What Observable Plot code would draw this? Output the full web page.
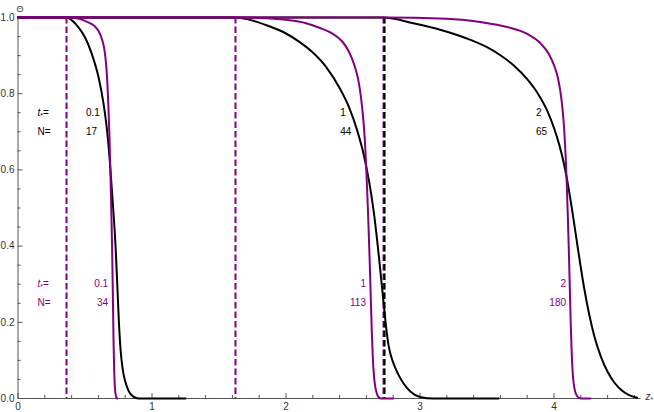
<!DOCTYPE html>
<html><head><meta charset="utf-8">
<script src="https://cdn.jsdelivr.net/npm/d3@7"></script>
<script src="https://cdn.jsdelivr.net/npm/@observablehq/plot@0.6"></script>
<style>html,body{margin:0;padding:0;background:#fff;} svg{display:block}</style>
</head><body><div id="chart"></div>
<script>
// ---- data ----
const times = [0.1, 1, 2];          // t* values
const nBlack = [17, 44, 65];        // N for black curves
const nPurple = [34, 113, 180];     // N for purple curves
const frontStart = [0.362, 1.623, 2.728]; // dashed lines (z*)

// black curves (z*, Θ)
const b01Z = [0, 0.362, 0.40, 0.45, 0.50, 0.55, 0.60, 0.64, 0.67, 0.69, 0.71, 0.728, 0.742, 0.753, 0.765, 0.78, 0.80, 0.825, 0.86, 0.90, 1.25];
const b01T = [1, 1, 0.993, 0.975, 0.948, 0.905, 0.845, 0.77, 0.685, 0.60, 0.50, 0.40, 0.29, 0.20, 0.13, 0.08, 0.045, 0.02, 0.005, 0, 0];
const b1Z = [0, 1.623, 1.75, 1.86, 2.0, 2.1, 2.2, 2.3, 2.4, 2.47, 2.53, 2.58, 2.62, 2.655, 2.685, 2.71, 2.73, 2.748, 2.765, 2.785, 2.81, 2.84, 2.88, 2.93, 3.0, 3.1, 3.586];
const b1T = [1, 1, 0.992, 0.979, 0.958, 0.936, 0.908, 0.870, 0.815, 0.765, 0.705, 0.64, 0.57, 0.49, 0.40, 0.315, 0.245, 0.185, 0.14, 0.11, 0.085, 0.062, 0.038, 0.018, 0.004, 0, 0];
const b2Z = [0, 2.728, 2.95, 3.15, 3.35, 3.5, 3.6, 3.7, 3.8, 3.88, 3.95, 4.0, 4.04, 4.075, 4.105, 4.135, 4.165, 4.195, 4.225, 4.26, 4.30, 4.35, 4.40, 4.45, 4.50, 4.56, 4.62];
const b2T = [1, 1, 0.985, 0.968, 0.945, 0.922, 0.901, 0.874, 0.838, 0.800, 0.755, 0.71, 0.665, 0.615, 0.56, 0.495, 0.425, 0.355, 0.29, 0.225, 0.165, 0.11, 0.07, 0.042, 0.023, 0.009, 0.002];

// purple curves (z*, Θ)
const p01Z = [0, 0.362, 0.45, 0.52, 0.57, 0.60, 0.625, 0.645, 0.658, 0.668, 0.676, 0.683, 0.689, 0.696, 0.702, 0.708, 0.713, 0.718, 0.724, 0.731, 0.74];
const p01T = [1, 1, 0.997, 0.988, 0.978, 0.965, 0.945, 0.915, 0.875, 0.82, 0.755, 0.68, 0.60, 0.50, 0.40, 0.27, 0.15, 0.07, 0.025, 0.006, 0];
const p1Z = [0, 1.623, 1.8, 2.0, 2.15, 2.25, 2.35, 2.42, 2.47, 2.51, 2.54, 2.56, 2.575, 2.588, 2.598, 2.607, 2.616, 2.625, 2.633, 2.64, 2.647, 2.655, 2.665, 2.677, 2.69, 2.71, 2.80];
const p1T = [1, 1, 0.999, 0.994, 0.985, 0.973, 0.957, 0.937, 0.91, 0.875, 0.835, 0.79, 0.74, 0.68, 0.61, 0.535, 0.45, 0.355, 0.26, 0.18, 0.115, 0.065, 0.033, 0.014, 0.004, 0, 0];
const p2Z = [0, 2.728, 3.2, 3.45, 3.65, 3.8, 3.9, 3.96, 4.0, 4.03, 4.05, 4.065, 4.077, 4.087, 4.095, 4.103, 4.111, 4.118, 4.125, 4.132, 4.14, 4.15, 4.163, 4.18, 4.20, 4.272];
const p2T = [1, 1, 0.997, 0.988, 0.975, 0.957, 0.932, 0.905, 0.875, 0.84, 0.80, 0.755, 0.70, 0.635, 0.565, 0.48, 0.385, 0.29, 0.195, 0.12, 0.065, 0.032, 0.013, 0.003, 0, 0];

// ticks
const xMajor = [0, 1, 2, 3, 4];
const xMinor = [0.2,0.4,0.6,0.8,1.2,1.4,1.6,1.8,2.2,2.4,2.6,2.8,3.2,3.4,3.6,3.8,4.2,4.4,4.6];
const yMajor = [0, 0.2, 0.4, 0.6, 0.8, 1.0];
const yMinor = [0.05,0.1,0.15,0.25,0.3,0.35,0.45,0.5,0.55,0.65,0.7,0.75,0.85,0.9,0.95];

// annotation placement (data coordinates)
const labelZ = 0.146;
const blackRows = [0.75, 0.70];
const purpleRows = [0.30, 0.25];
const blackValueZ = [0.507, 2.405, 3.865];
const purpleValueZ = [0.672, 2.597, 4.09];

// ---- styles ----
const BLACK = "#000000", PURPLE = "#800080", AXIS = "#555555", LABEL = "#333333";
const FONT = "'Liberation Sans', Arial, Helvetica, sans-serif";

const rows = (Z, T) => Z.map((z, i) => ({z, theta: T[i]}));
const lineOpts = (c) => ({x: "z", y: "theta", stroke: c, strokeWidth: 2, curve: "monotone-x"});

const blackVals = [];
const purpleVals = [];
times.forEach((t, i) => {
  blackVals.push({z: blackValueZ[i], y: blackRows[0], s: String(t)});
  blackVals.push({z: blackValueZ[i], y: blackRows[1], s: String(nBlack[i])});
  purpleVals.push({z: purpleValueZ[i], y: purpleRows[0], s: String(t)});
  purpleVals.push({z: purpleValueZ[i], y: purpleRows[1], s: String(nPurple[i])});
});
const rowLabels = (r) => [{y: r[0], s: "t*="}, {y: r[1], s: "N="}];

const chart = Plot.plot({
  width: 654, height: 412,
  marginLeft: 17.5, marginRight: 13.4, marginTop: 17, marginBottom: 14,
  x: {domain: [0, 4.65], axis: null},
  y: {domain: [0, 1], axis: null},
  style: {fontFamily: FONT, fontSize: "10px", background: "#fff", overflow: "visible"},
  marks: [
    // axes
    Plot.ruleY([0], {stroke: AXIS, strokeWidth: 1}),
    Plot.ruleX([0], {stroke: AXIS, strokeWidth: 1}),
    Plot.ruleX(xMinor, {x: d => d, y1: 0, y2: 0, insetTop: -3, stroke: AXIS}),
    Plot.ruleX(xMajor, {x: d => d, y1: 0, y2: 0, insetTop: -5, stroke: AXIS}),
    Plot.ruleY(yMinor, {y: d => d, x1: 0, x2: 0, insetRight: -3, stroke: AXIS}),
    Plot.ruleY(yMajor, {y: d => d, x1: 0, x2: 0, insetRight: -5, stroke: AXIS}),
    Plot.text(xMajor, {x: d => d, y: 0, text: d => String(d), dy: 8.5, fill: LABEL}),
    Plot.text(yMajor, {x: 0, y: d => d, text: d => d.toFixed(1), textAnchor: "end", dx: -3.5, fill: LABEL}),
    Plot.text(["Θ"], {frameAnchor: "top-left", text: d => d, dx: -1.5, dy: -11.5, fontSize: 9, fill: LABEL}),
    Plot.text(["z*"], {frameAnchor: "bottom-right", text: d => d, dx: 4.5, dy: 1.5, textAnchor: "start", fill: LABEL}),
    // dashed front positions
    Plot.ruleX(frontStart, {x: d => d, stroke: PURPLE, strokeWidth: 2, strokeDasharray: "6.5,3"}),
    Plot.ruleX(frontStart.slice(2), {x: d => d, dx: 1, stroke: BLACK, strokeWidth: 2, strokeDasharray: "6.5,3"}),
    // curves
    Plot.line(rows(b01Z, b01T), lineOpts(BLACK)),
    Plot.line(rows(b1Z, b1T), lineOpts(BLACK)),
    Plot.line(rows(b2Z, b2T), lineOpts(BLACK)),
    Plot.line(rows(p01Z, p01T), lineOpts(PURPLE)),
    Plot.line(rows(p1Z, p1T), lineOpts(PURPLE)),
    Plot.line(rows(p2Z, p2T), lineOpts(PURPLE)),
    // annotations
    Plot.text(rowLabels(blackRows), {x: labelZ, y: "y", text: "s", textAnchor: "start", fill: BLACK}),
    Plot.text(rowLabels(purpleRows), {x: labelZ, y: "y", text: "s", textAnchor: "start", fill: PURPLE}),
    Plot.text(blackVals, {x: "z", y: "y", text: "s", textAnchor: "start", fill: BLACK}),
    Plot.text(purpleVals, {x: "z", y: "y", text: "s", textAnchor: "end", fill: PURPLE})
  ]
});

// rich text: italic symbol with subscript asterisk
const NS = "http://www.w3.org/2000/svg";
chart.querySelectorAll("text").forEach(el => {
  const s = el.textContent;
  if (s === "t*=" || s === "z*") {
    el.textContent = "";
    const a = document.createElementNS(NS, "tspan");
    a.setAttribute("font-style", "italic");
    a.textContent = s[0];
    const b = document.createElementNS(NS, "tspan");
    b.setAttribute("font-size", "7");
    b.setAttribute("dy", "2");
    b.textContent = "*";
    el.append(a, b);
    if (s.length > 2) {
      const c = document.createElementNS(NS, "tspan");
      c.setAttribute("dy", "-2");
      c.textContent = s.slice(2);
      el.append(c);
    }
  }
});
document.getElementById("chart").append(chart);
</script>
</body></html>
